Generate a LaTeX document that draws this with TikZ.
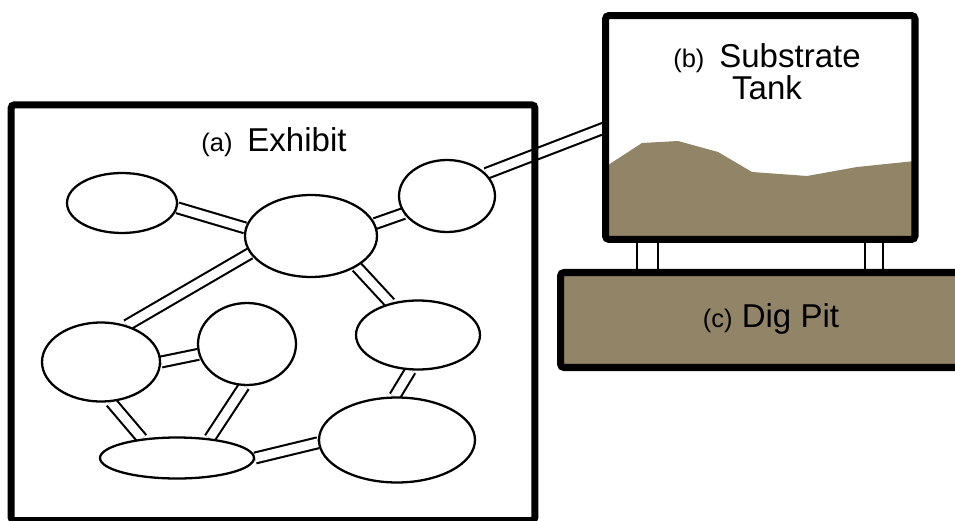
\documentclass[tikz,border=0pt]{standalone}
\usepackage{fontspec}
\setmainfont{Liberation Sans}
\usetikzlibrary{shapes.geometric,backgrounds}
\definecolor{soil}{RGB}{145,132,103}
\newcommand{\sublbl}[1]{{\fontsize{14.5}{15}\selectfont #1}}

\begin{document}
\begin{tikzpicture}[x=0.02cm,y=-0.02cm,
  box/.style={draw,line width=4pt,rounded corners=2pt,inner sep=0pt,outer sep=0pt},
  cell/.style={ellipse,draw,fill=white,line width=1.3pt,inner sep=0pt},
  pipe/.style={draw=black,double=white,line width=1.2pt,double distance=5pt},
  lbl/.style={font=\fontsize{18.8}{18.3}\selectfont,inner sep=0pt}]
\clip (0,0) rectangle (955,520);
% boxes
\node[box,minimum width=10.48cm,minimum height=8.32cm] (exhibit) at (273,312.75) {};
\node[box,minimum width=6.19cm,minimum height=4.48cm] (tank) at (760.25,127.5) {};
\node[box,fill=soil,minimum width=8.19cm,minimum height=1.9cm] (pit) at (765.25,320) {};
% cells of the exhibit
\node[cell,minimum width=2.2cm,minimum height=1.2cm] (c1) at (122,203) {};
\node[cell,minimum width=2.64cm,minimum height=1.64cm] (c2) at (311,236) {};
\node[cell,minimum width=1.92cm,minimum height=1.44cm] (c3) at (447,196) {};
\node[cell,minimum width=2.36cm,minimum height=1.58cm] (c4) at (101,362) {};
\node[cell,minimum width=1.96cm,minimum height=1.64cm] (c5) at (247,344) {};
\node[cell,minimum width=2.48cm,minimum height=1.38cm] (c6) at (418,335) {};
\node[cell,minimum width=3.08cm,minimum height=0.82cm] (c7) at (177,458) {};
\node[cell,minimum width=3.12cm,minimum height=1.7cm] (c8) at (397,440) {};
% labels
\node[lbl,anchor=base] (exlabel) at (274,152) {\sublbl{(a)}\hspace{0.45em}Exhibit};
\node[lbl,anchor=base,align=center] (tanklabel) at (767,100) {\sublbl{(b)}\hspace{0.45em}Substrate\\Tank};
\node[lbl,anchor=base] (pitlabel) at (771,327) {\sublbl{(c)} Dig Pit};
\begin{pgfonlayer}{background}
% substrate in the tank
\fill[soil] (605,167) -- (642,143) -- (678,141) -- (718,152) -- (752,172)
  -- (807,176) -- (857,167) -- (915,161) -- (915,239) -- (605,239) -- cycle;
% tubes
\draw[pipe] (c1.-5) -- (c2.173);
\draw[pipe] (c2.11) -- (c3.202);
\draw[pipe] (c3.30) -- (tank.west);
\draw[pipe] (c2.196) -- (c4.55);
\draw[pipe] (c2.-34) -- (c6.131);
\draw[pipe] (c4.0) -- (c5.192);
\draw[pipe] (c4.-76) -- (c7.151);
\draw[pipe] (c5.-94) -- (c7.31);
\draw[pipe] (c6.-102) -- (c8.93);
\draw[pipe] (c7.0) -- (c8.182);
% legs
\draw[line width=1.15pt] ([xshift=0.63cm]tank.south west) rectangle ([xshift=1.05cm]tank.south west |- pit.north);
\draw[line width=1.15pt] ([xshift=-1cm]tank.south east) rectangle ([xshift=-0.64cm]tank.south east |- pit.north);
\end{pgfonlayer}
\end{tikzpicture}
\end{document}
